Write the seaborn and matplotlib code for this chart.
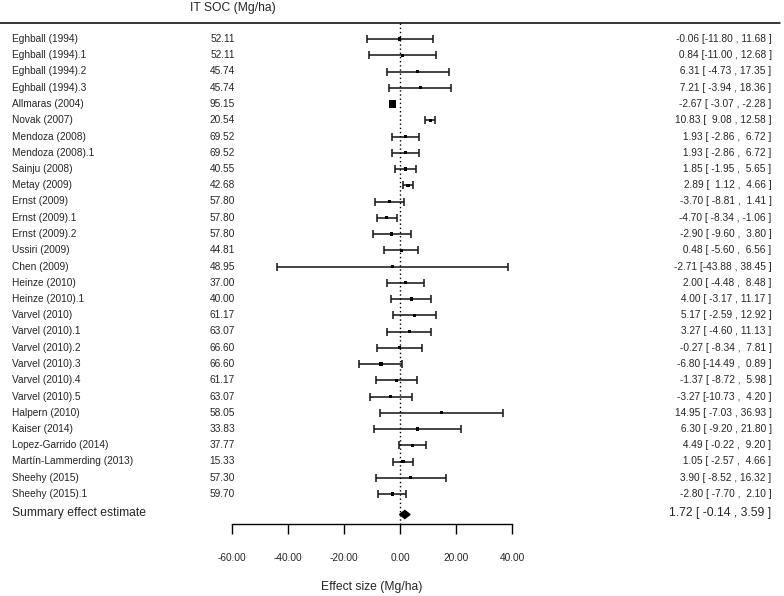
import matplotlib
matplotlib.use("Agg")
import matplotlib.pyplot as plt
import seaborn as sns
import numpy as np
import pandas as pd

studies = ["Eghball (1994)", "Eghball (1994).1", "Eghball (1994).2", "Eghball (1994).3",
           "Allmaras (2004)", "Novak (2007)", "Mendoza (2008)", "Mendoza (2008).1",
           "Sainju (2008)", "Metay (2009)", "Ernst (2009)", "Ernst (2009).1", "Ernst (2009).2",
           "Ussiri (2009)", "Chen (2009)", "Heinze (2010)", "Heinze (2010).1",
           "Varvel (2010)", "Varvel (2010).1", "Varvel (2010).2", "Varvel (2010).3",
           "Varvel (2010).4", "Varvel (2010).5", "Halpern (2010)", "Kaiser (2014)",
           "Lopez-Garrido (2014)", "Martín-Lammerding (2013)", "Sheehy (2015)", "Sheehy (2015).1"]
it_soc = [52.11, 52.11, 45.74, 45.74, 95.15, 20.54, 69.52, 69.52, 40.55, 42.68, 57.80, 57.80,
          57.80, 44.81, 48.95, 37.00, 40.00, 61.17, 63.07, 66.60, 66.60, 61.17, 63.07, 58.05,
          33.83, 37.77, 15.33, 57.30, 59.70]
est = [-0.06, 0.84, 6.31, 7.21, -2.67, 10.83, 1.93, 1.93, 1.85, 2.89, -3.70, -4.70, -2.90,
       0.48, -2.71, 2.00, 4.00, 5.17, 3.27, -0.27, -6.80, -1.37, -3.27, 14.95, 6.30, 4.49,
       1.05, 3.90, -2.80]
lo = [-11.80, -11.00, -4.73, -3.94, -3.07, 9.08, -2.86, -2.86, -1.95, 1.12, -8.81, -8.34,
      -9.60, -5.60, -43.88, -4.48, -3.17, -2.59, -4.60, -8.34, -14.49, -8.72, -10.73, -7.03,
      -9.20, -0.22, -2.57, -8.52, -7.70]
hi = [11.68, 12.68, 17.35, 18.36, -2.28, 12.58, 6.72, 6.72, 5.65, 4.66, 1.41, -1.06, 3.80,
      6.56, 38.45, 8.48, 11.17, 12.92, 11.13, 7.81, 0.89, 5.98, 4.20, 36.93, 21.80, 9.20,
      4.66, 16.32, 2.10]
summary_est, summary_lo, summary_hi = 1.72, -0.14, 3.59
xticks = [-60, -40, -20, 0, 20, 40]

sns.set_theme(style="white")
plt.rcParams["font.family"] = ["Liberation Sans", "DejaVu Sans"]

W, H, DPI = 784, 596, 100
fig = plt.figure(figsize=(W / DPI, H / DPI), dpi=DPI)
ax = fig.add_axes([0, 0, 1, 1])

# pixel geometry -> data units
PX_PER_UNIT = 2.8
X0 = 400.0
ROW0, ROWH = 39.0, 16.25
def xd(px):
    return (px - X0) / PX_PER_UNIT
def yd(py):
    return (py - ROW0) / ROWH

ax.set_xlim(xd(0), xd(W))
ax.set_ylim(yd(H), yd(0))

df = pd.DataFrame({"study": studies, "soc": it_soc, "est": est, "lo": lo, "hi": hi})
df["row"] = np.arange(len(df))
se = (df["hi"] - df["lo"]) / (2 * 1.96)
df["w"] = 1.0 / se ** 2

# CI lines
ax.errorbar(df["est"], df["row"], xerr=[df["est"] - df["lo"], df["hi"] - df["est"]],
            fmt="none", ecolor="#1a1a1a", elinewidth=1.15, capsize=2.8, capthick=1.15, zorder=2)
# squares sized by weight
sns.scatterplot(data=df, x="est", y="row", size="w", sizes=(5, 30), marker="s",
                color="black", edgecolor="none", legend=False, ax=ax, zorder=3)

# summary diamond
srow = yd(514.5)
dh = 0.25
ax.fill([summary_lo, summary_est, summary_hi, summary_est],
        [srow, srow - dh, srow, srow + dh], color="black", zorder=3)

# top line and dotted zero line
ax.plot([xd(0), xd(780)], [yd(23), yd(23)], color="black", lw=1.1)
axis_row = yd(523.5)
ax.plot([0, 0], [yd(23), axis_row], color="black", lw=1.0, ls=(0, (1, 2)))

# text columns
fs = 7.3
for _, r in df.iterrows():
    ax.text(xd(12), r["row"], r["study"], ha="left", va="center", fontsize=fs)
    ax.text(xd(235), r["row"], f"{r['soc']:.2f}", ha="right", va="center", fontsize=fs)
    ax.text(xd(771.5), r["row"],
            f"{r['est']:5.2f} [{r['lo']:6.2f} , {r['hi']:5.2f} ]",
            ha="right", va="center", fontsize=fs)
ax.text(xd(232.5), yd(8), "IT SOC (Mg/ha)", ha="center", va="center", fontsize=8.7)
ax.text(xd(12), yd(513), "Summary effect estimate", ha="left", va="center", fontsize=8.7)
ax.text(xd(771.5), yd(513),
        f"{summary_est:.2f} [{summary_lo:6.2f} , {summary_hi:.2f} ]",
        ha="right", va="center", fontsize=8.7)

# x axis
for s in ["top", "left", "right"]:
    ax.spines[s].set_visible(False)
ax.spines["bottom"].set_position(("data", axis_row))
ax.spines["bottom"].set_bounds(xticks[0], xticks[-1])
ax.spines["bottom"].set_linewidth(1.0)
ax.spines["bottom"].set_color("black")
ax.set_xticks(xticks)
ax.set_xticklabels([f"{t:.2f}" for t in xticks], fontsize=fs)
ax.tick_params(axis="x", direction="out", length=7.5, width=1.0, color="black",
               pad=13.5, bottom=True)
ax.set_yticks([])
ax.set_ylabel("")
ax.set_xlabel("Effect size (Mg/ha)", fontsize=8.7)
ax.xaxis.set_label_coords(372 / W, 1 - 581 / H)
ax.grid(False)

fig.savefig("out.png", dpi=DPI)
